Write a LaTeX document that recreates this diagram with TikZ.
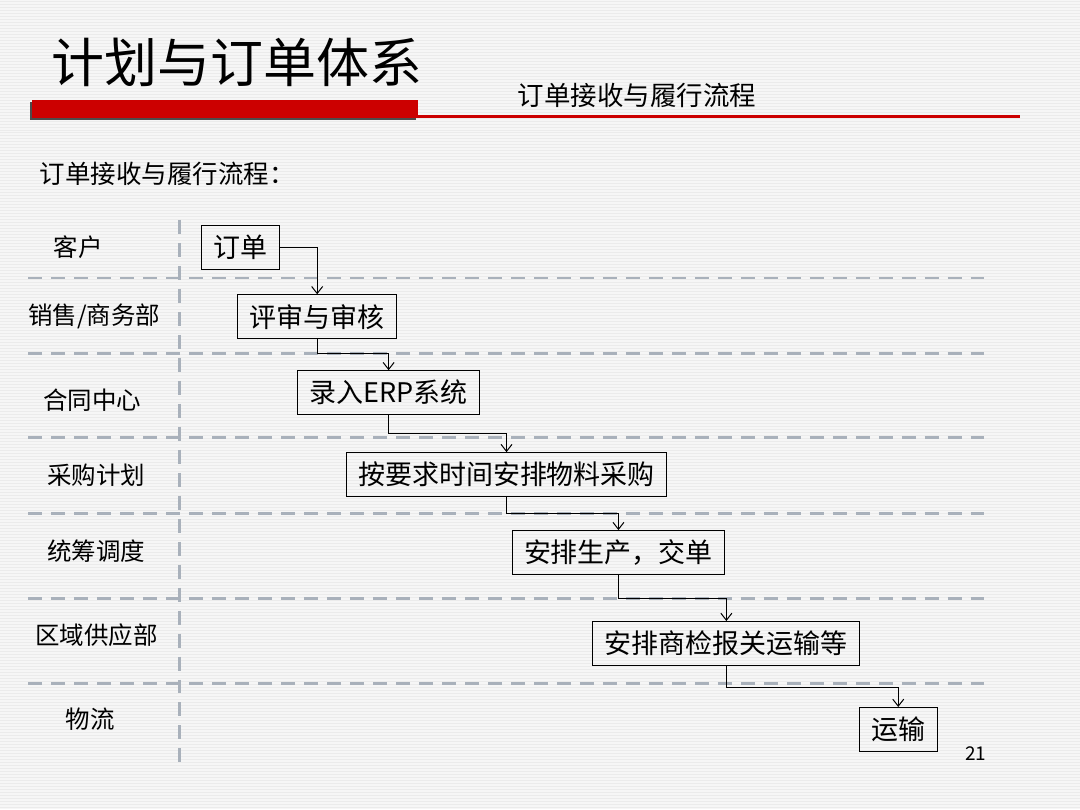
\documentclass[tikz,border=0pt]{standalone}
\usepackage{fontspec}
\setmainfont{Noto Sans CJK SC}
\usetikzlibrary{arrows.meta,calc}
\definecolor{barred}{HTML}{CC0000}
\definecolor{lanegray}{HTML}{A9B1BB}
\definecolor{pagebg}{HTML}{F6F6F6}
\definecolor{stripe}{HTML}{EBEBEB}
\newcommand{\fs}[1]{\fontsize{#1}{#1}\selectfont}

\begin{document}
\begin{tikzpicture}[x=1pt,y=-1pt,
  lane/.style={draw=lanegray,line width=2.5pt,dash pattern=on 14pt off 9pt},
  lanelabel/.style={font=\fs{24.5}},
  stepbox/.style={draw,line width=1pt,font=\fs{27},inner xsep=12pt,inner ysep=0pt,minimum height=44pt},
  conn/.style={draw,line width=1pt,-{Straight Barb[length=7pt,width=11pt]}}]
  % page and striped background
  \fill[pagebg] (0,0) rectangle (1080,810);
  \foreach \y in {1,4,...,808} \draw[stripe,line width=0.8pt] (0,\y) -- (1080,\y);
  \useasboundingbox (0,0) rectangle (1080,810);

  % header
  \node[font=\fs{53}] (title) at (237,62) {计划与订单体系};
  \fill[black!70] (30,102) rectangle (416,120);
  \fill[barred] (32,100) rectangle (418,118);
  \fill[barred] (418,115.5) rectangle (1020,118.5);
  \node[font=\fs{26.5}] (subtitle) at (637,96) {订单接收与履行流程};
  \node[font=\fs{25.5},anchor=west] (heading) at (36,174) {订单接收与履行流程：};

  % swim lanes
  \draw[lane] (179,220) -- (179,772);
  \foreach \y in {278,354,438,514,599,684} \draw[lane] (28,\y) -- (984,\y);
  \node[lanelabel] (cust) at (78,247) {客户};
  \node[lanelabel] (sales) at (94,317) {销售/商务部};
  \node[lanelabel] (contract) at (92,400) {合同中心};
  \node[lanelabel] (plan) at (96,476) {采购计划};
  \node[lanelabel] (sched) at (96,552) {统筹调度};
  \node[lanelabel] (supply) at (96,636) {区域供应部};
  \node[lanelabel] (logis) at (90,720) {物流};

  % steps
  \node[stepbox] (order) at (240,247.5) {订单};
  \node[stepbox] (review) at (317,317) {评审与审核};
  \node[stepbox] (erp) at (388.5,393) {录入ERP系统};
  \node[stepbox] (purchase) at (506.5,475) {按要求时间安排物料采购};
  \node[stepbox] (produce) at (618.5,553) {安排生产，交单};
  \node[stepbox] (customs) at (726.5,644) {安排商检报关运输等};
  \node[stepbox] (ship) at (898.5,730) {运输};

  % elbow heights
  \coordinate (e2) at (0,354);
  \coordinate (e3) at (0,434);
  \coordinate (e4) at (0,514);
  \coordinate (e5) at (0,599);
  \coordinate (e6) at (0,688);

  \draw[conn] (order.east) -| (review.north);
  \draw[conn] (review.south) |- (e2 -| erp.north) -- (erp.north);
  \draw[conn] (erp.south) |- (e3 -| purchase.north) -- (purchase.north);
  \draw[conn] (purchase.south) |- (e4 -| produce.north) -- (produce.north);
  \draw[conn] (produce.south) |- (e5 -| customs.north) -- (customs.north);
  \draw[conn] (customs.south) |- (e6 -| ship.north) -- (ship.north);

  \node[font=\fs{19}] (pageno) at (976,754) {21};
\end{tikzpicture}
\end{document}
